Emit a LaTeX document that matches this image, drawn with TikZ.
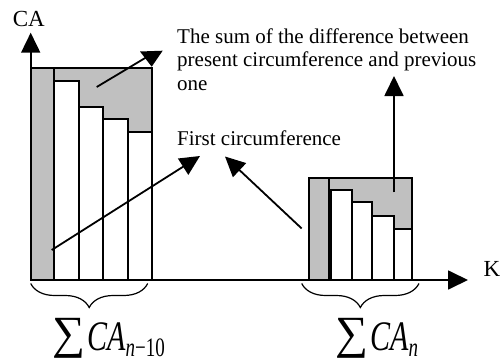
\documentclass[tikz,border=0pt]{standalone}
\usepackage{fontspec}
\setmainfont{Liberation Serif}
\usepackage{graphicx}
\usetikzlibrary{arrows.meta,decorations.pathreplacing}
\definecolor{boxgray}{RGB}{192,192,192}
\tikzset{
  outline/.style={draw=black,line width=1.8pt},
  grayarea/.style={outline,fill=boxgray},
  bar/.style={outline,fill=white},
  conn/.style={line width=1.8pt,-{Triangle[length=20pt,width=19pt]}},
  lbl/.style={anchor=base west,inner sep=0pt,font=\fontsize{21}{23.5}\selectfont,align=left},
  axlbl/.style={anchor=base west,inner sep=0pt,font=\fontsize{23}{23}\selectfont},
  curly/.style={line width=1.2pt,decorate,decoration={brace,mirror,amplitude=24pt}},
  sumlbl/.style={anchor=base west,inner sep=0pt},
  sigma/.style={anchor=south west,inner sep=0pt}
}
\newcommand{\bigsigma}{\resizebox*{33pt}{40pt}{∑}}
\newcommand{\calabel}[1]{\scalebox{1}[1.4]{\fontsize{30}{30}\selectfont\textit{CA}\raisebox{-4.3pt}{\fontsize{19}{19}\selectfont #1}}}
\begin{document}
\begin{tikzpicture}[x=1pt,y=-1pt]
\useasboundingbox (0,0) rectangle (501,362);
% left chart
\path[grayarea] (30.7,68) rectangle (151.7,280);
\draw[outline] (54.3,68) -- (54.3,280);
\path[bar] (54.3,80.7) rectangle (79,280);
\path[bar] (79,106.7) rectangle (103.3,280);
\path[bar] (103.3,119) rectangle (127.7,280);
\path[bar] (127.7,131.7) rectangle (151.7,280);
% right chart
\path[grayarea] (309,177.7) rectangle (412.3,280);
\draw[outline] (329.3,177.7) -- (329.3,280);
\path[bar] (331.3,190) rectangle (351.7,280);
\path[bar] (351.7,202.3) rectangle (372.3,280);
\path[bar] (372.3,215.7) rectangle (394.3,280);
\path[bar] (394.3,229) rectangle (412.3,280);
% axes
\coordinate (O) at (30.7,280);
\coordinate (ytip) at (30.7,32.7);
\coordinate (xtip) at (468,280);
\draw[conn] (O) -- (ytip);
\draw[conn] (O) -- (xtip);
\node[axlbl] (CA) at (12.7,26.7) {CA};
\node[axlbl] (K) at (483.3,276) {K};
% texts (anchored at the baseline of the last line)
\node[lbl] (sumtxt) at (177,90.3) {The sum of the difference between\\present circumference and previous\\one};
\node[lbl] (firsttxt) at (177,145) {First circumference};
% difference arrow (left)
\coordinate (d1) at (96.7,87);
\coordinate (d2) at (146,57.5);
\draw[line width=1.8pt] (d1) -- (d2);
\fill (140,51.5) -- (162.7,50.7) -- (151.7,66.7) -- cycle;
% difference arrow (right)
\coordinate (r1) at (394,192.3);
\coordinate (r2) at (394,76);
\draw[conn] (r1) -- (r2);
% first circumference arrows
\coordinate (f1) at (51.7,250);
\coordinate (f1t) at (200,156);
\draw[conn] (f1) -- (f1t);
\coordinate (f2) at (301.7,228.5);
\coordinate (f2t) at (225,156.5);
\draw[conn] (f2) -- (f2t);
% braces
\coordinate (b1a) at (30.7,283.5);
\coordinate (b1b) at (147.7,283.5);
\draw[curly] (b1a) -- (b1b);
\coordinate (b2a) at (301.7,283.5);
\coordinate (b2b) at (419,283.5);
\draw[curly] (b2a) -- (b2b);
% sum labels
\node[sigma] (sig1) at (52,359) {\bigsigma};
\node[sumlbl] (s1) at (87,350) {\calabel{\textit{n}−10}};
\node[sigma] (sig2) at (335,359) {\bigsigma};
\node[sumlbl] (s2) at (370,350) {\calabel{\textit{n}}};
\end{tikzpicture}
\end{document}
